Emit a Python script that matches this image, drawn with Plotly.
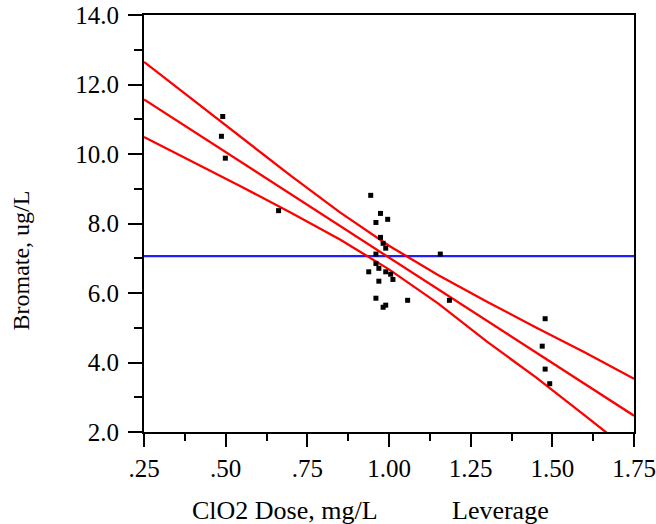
import plotly.graph_objects as go

# Observed data (ClO2 dose leverage vs bromate leverage residuals)
dose = [0.491, 0.487, 0.499, 0.662,
        0.944, 0.974, 0.996, 0.960, 0.974, 0.982, 0.990, 0.960, 1.157,
        0.960, 0.969, 0.938, 0.990, 1.005, 1.012, 0.969, 0.960, 1.057,
        1.185, 0.990, 0.982,
        1.478, 1.469, 1.478, 1.492]
bromate = [11.08, 10.51, 9.88, 8.37,
           8.81, 8.29, 8.12, 8.03, 7.60, 7.43, 7.29, 7.12, 7.12,
           6.85, 6.71, 6.61, 6.61, 6.54, 6.39, 6.34, 5.85, 5.79,
           5.79, 5.65, 5.59,
           5.26, 4.47, 3.81, 3.39]

# Fit line and confidence curves
line_x = [0.25, 0.40, 0.55, 0.70, 0.85, 1.00, 1.15, 1.30, 1.45, 1.60, 1.75]
fit_y = [11.57, 10.66, 9.75, 8.84, 7.93, 7.02, 6.11, 5.20, 4.29, 3.38, 2.47]
upper_y = [12.65, 11.55, 10.45, 9.37, 8.32, 7.36, 6.52, 5.75, 5.01, 4.29, 3.53]
lower_y = [10.49, 9.78, 9.05, 8.31, 7.54, 6.68, 5.70, 4.60, 3.57, 2.47, 1.36]

mean_x = [0.25, 1.75]
mean_y = [7.06, 7.06]

x_ticks = [0.25, 0.50, 0.75, 1.00, 1.25, 1.50, 1.75]
x_tick_labels = [".25", ".50", ".75", "1.00", "1.25", "1.50", "1.75"]
y_ticks = [2, 4, 6, 8, 10, 12, 14]
y_tick_labels = ["2.0", "4.0", "6.0", "8.0", "10.0", "12.0", "14.0"]

FONT = "Liberation Serif, Times New Roman, serif"
RED = "rgb(255,0,0)"
BLUE = "rgb(30,30,255)"

fig = go.Figure()
fig.add_trace(go.Scatter(x=mean_x, y=mean_y, mode="lines",
                         line=dict(color=BLUE, width=2.2), hoverinfo="skip"))
for ys in (upper_y, fit_y, lower_y):
    fig.add_trace(go.Scatter(x=line_x, y=ys, mode="lines",
                             line=dict(color=RED, width=2.3), hoverinfo="skip"))
fig.add_trace(go.Scatter(x=dose, y=bromate, mode="markers",
                         marker=dict(symbol="square", size=5, color="black",
                                     line=dict(width=0))))

fig.update_layout(
    width=656, height=524,
    margin=dict(l=144, r=22, t=15, b=92),
    paper_bgcolor="white", plot_bgcolor="white",
    showlegend=False,
    font=dict(family=FONT, size=25, color="black"),
)
fig.update_xaxes(
    range=[0.25, 1.75], tickmode="array", tickvals=x_ticks, ticktext=x_tick_labels,
    ticks="outside", ticklen=13, tickwidth=2, tickcolor="black",
    showline=True, linewidth=2, linecolor="black", mirror=True,
    showgrid=False, zeroline=False, automargin=False,
    minor=dict(ticks="outside", ticklen=7, tickwidth=2, tickcolor="black",
               dtick=0.125, tick0=0.25, showgrid=False),
    tickfont=dict(family=FONT, size=25),
)
fig.update_yaxes(
    range=[2, 14], tickmode="array", tickvals=y_ticks, ticktext=y_tick_labels,
    ticks="outside", ticklen=14, tickwidth=2, tickcolor="black",
    showline=True, linewidth=2, linecolor="black", mirror=True,
    showgrid=False, zeroline=False, automargin=False, ticklabelstandoff=4,
    minor=dict(ticks="outside", ticklen=8, tickwidth=2, tickcolor="black",
               dtick=1, tick0=2, showgrid=False),
    tickfont=dict(family=FONT, size=25),
)
fig.add_annotation(text="Bromate, ug/L", xref="paper", yref="paper",
                   x=-0.25, y=0.41, textangle=-90, showarrow=False,
                   font=dict(family=FONT, size=24), xanchor="center", yanchor="middle")
fig.add_annotation(text="ClO2 Dose, mg/L", xref="paper", yref="paper",
                   x=(285 - 144) / 490, y=-0.188, showarrow=False,
                   font=dict(family=FONT, size=26), xanchor="center", yanchor="middle")
fig.add_annotation(text="Leverage", xref="paper", yref="paper",
                   x=(500 - 144) / 490, y=-0.188, showarrow=False,
                   font=dict(family=FONT, size=26), xanchor="center", yanchor="middle")

fig.write_html("out.html")
